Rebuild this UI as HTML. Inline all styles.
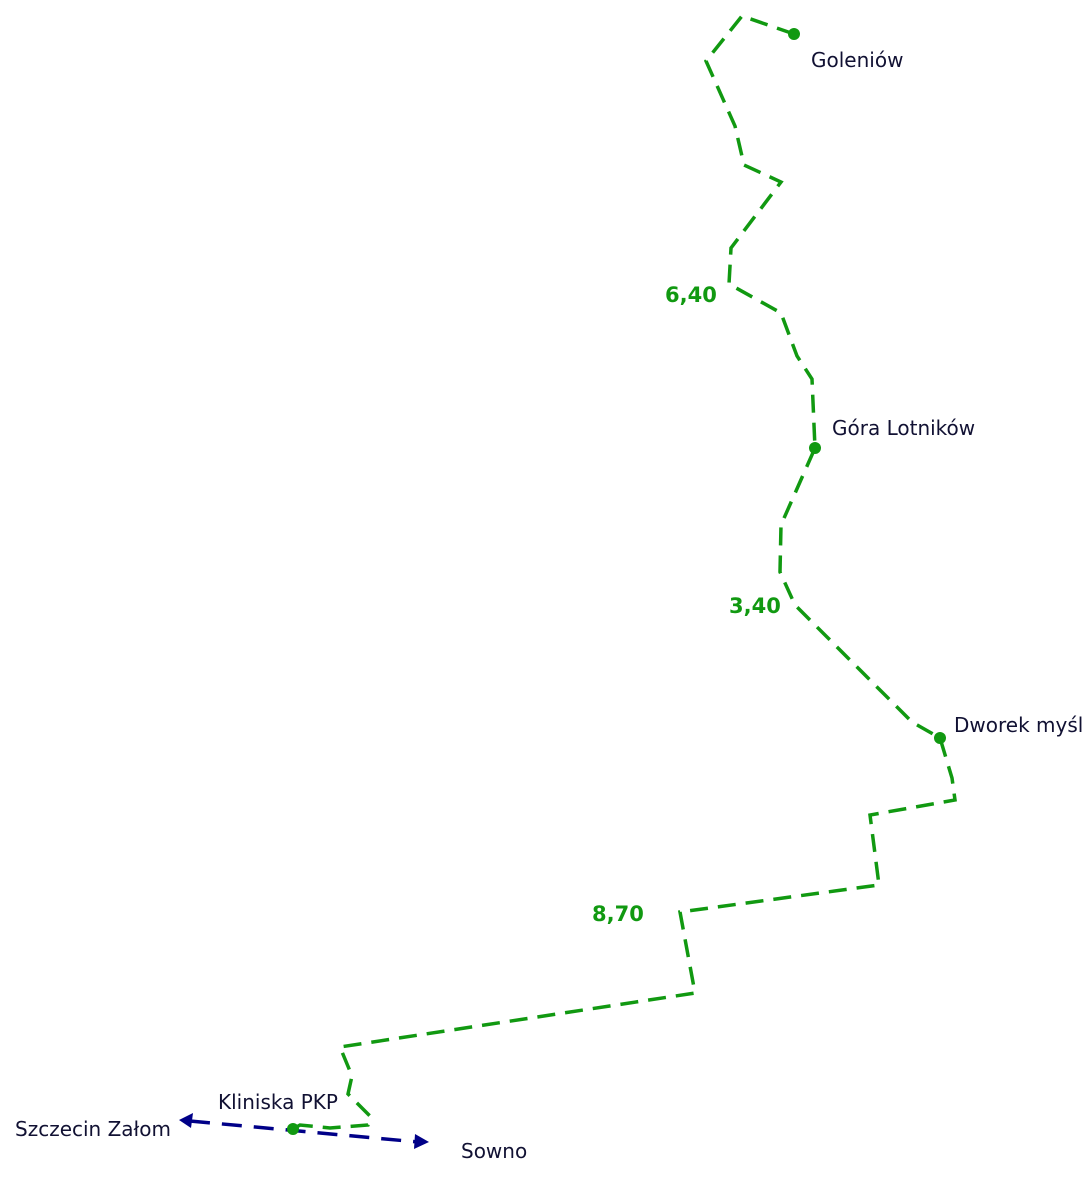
<!DOCTYPE html>
<html><head><meta charset="utf-8"><style>
body{margin:0;background:#fff;}
svg{display:block;}
text{font-family:"DejaVu Sans","Liberation Sans",sans-serif;font-size:20px;fill:#111133;}
.g{fill:#119911;font-weight:bold;font-size:21px;}
</style></head><body>
<svg width="1084" height="1182" viewBox="0 0 1084 1182">
<polyline fill="none" stroke="#119911" stroke-width="3.5" stroke-dasharray="18,10"
points="794,34 742,16 706,61 735,126 744,165 781,182 731,248 729,284 781,313 797,356 812,379 815,448 781,525 780,572 795,605 912,722 940,738 952,778 955,800 870,815 879,885 680,912 695,993 340,1047 352,1076 348,1094 371,1117 368,1125 330,1128 300,1125 293,1129"/>
<line x1="190" y1="1121" x2="418" y2="1142" stroke="#000088" stroke-width="3.5" stroke-dasharray="20,12"/>
<polygon points="179,1120 193,1113 191,1128" fill="#000088"/>
<polygon points="429,1142 415,1134 414,1149" fill="#000088"/>
<circle cx="794" cy="34" r="6" fill="#119911"/>
<circle cx="815" cy="448" r="6" fill="#119911"/>
<circle cx="940" cy="738" r="6" fill="#119911"/>
<circle cx="293" cy="1129" r="6" fill="#119911"/>
<text x="811" y="67">Goleniów</text>
<text x="832" y="435">Góra Lotników</text>
<text x="954" y="732">Dworek myśl</text>
<text x="218" y="1109">Kliniska PKP</text>
<text x="15" y="1136">Szczecin Załom</text>
<text x="461" y="1158">Sowno</text>
<text class="g" x="665" y="302">6,40</text>
<text class="g" x="729" y="613">3,40</text>
<text class="g" x="592" y="921">8,70</text>
</svg>
</body></html>
